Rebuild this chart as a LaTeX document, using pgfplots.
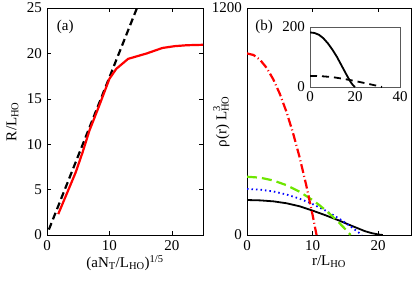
\documentclass[border=0pt]{standalone}
\usepackage{pgfplots}
\pgfplotsset{compat=1.18}
\usepackage{fontspec}
\setmainfont{Liberation Serif}
\begin{document}
\fontsize{15}{17}\selectfont
\begin{tikzpicture}
\path[use as bounding box] (0pt,0pt) rectangle (415pt,285pt);
\pgfplotsset{
  every axis/.append style={
    scale only axis,
    anchor=south west,
    axis line style={line width=0.6pt},
    tick style={line width=0.5pt,black},
    tick align=inside,
    major tick length=4pt,
    /pgf/number format/assume math mode=true,
    /pgf/number format/1000 sep={},
    tick label style={font=\fontsize{15}{17}\selectfont},
    label style={font=\fontsize{15}{17}\selectfont},
  }
}
% (a)
\begin{axis}[at={(47pt,50pt)}, width=156pt, height=227pt,
  xmin=0, xmax=25, ymin=0, ymax=25,
  xtick={0,10,20}, ytick={0,5,10,15,20,25},
  tick pos=both, clip=true,
  xlabel={(aN\textsubscript{T}/L\textsubscript{HO})\textsuperscript{1/5}},
  ylabel={R/L\textsubscript{HO}},
  xlabel style={yshift=5pt},
  ylabel style={yshift=-2pt},
]
\addplot[black, line width=2.2pt, dash pattern=on 7pt off 4pt] coordinates {(0.3,0.6) (15.0,26.0)};
\addplot[red, line width=2.2pt] coordinates {
(1.8,2.3) (3.2,4.6) (4.6,6.9) (5.7,9.1) (6.8,11.5) (8.4,14.3) (10.0,17.2) (11.1,18.3) (13.0,19.4) (16.0,20.0) (18.5,20.6) (20.5,20.8) (22.4,20.9) (25.1,20.95)};
\node[anchor=north west, font=\fontsize{15}{17}\selectfont] at (rel axis cs:0.03,0.97) {(a)};
\end{axis}
% (b)
\begin{axis}[at={(247pt,50pt)}, width=164pt, height=227pt,
  xmin=0, xmax=25, ymin=0, ymax=1200,
  xtick={0,10,20}, ytick={0,1200},
  xtick pos=both, ytick pos=left,
  ytick style={draw=none},
  xlabel={r/L\textsubscript{HO}},
  ylabel={ρ(r) L\rlap{\raisebox{1pt}{\textsuperscript{3}}}\textsubscript{HO}},
  xlabel style={yshift=5pt},
  ylabel style={yshift=-28pt},
]
\addplot[black, line width=1.8pt] coordinates {
(0,185) (2,183) (4,178) (6,168) (8,152) (10,129) (12,104) (14,77) (16,48) (18,20) (19,10) (20,3) (20.7,0)};
\addplot[blue, line width=1.8pt, dash pattern=on 1.5pt off 3pt] coordinates {
(0,243) (2,239.8) (4,230.3) (6,214.4) (8,192.2) (10,163.6) (12,128.7) (14,87.5) (15,64.5) (16,39.9) (17,13.7) (17.5,0)};
\addplot[color={rgb,255:red,110;green,230;blue,0}, line width=2.2pt, dash pattern=on 10pt off 5pt] coordinates {
(0,308) (2,303.1) (4,288.3) (6,263.6) (8,229.0) (10,184.6) (11,158.7) (12,130.3) (13,99.5) (14,66.2) (15,30.4) (15.8,0)};
\addplot[red, line width=2.2pt, dash pattern=on 9pt off 3pt on 1pt off 3pt] coordinates {
(0,960) (1,951.5) (2,925.8) (3,883.1) (4,823.3) (5,746.4) (6,652.4) (7,541.3) (8,413.2) (9,267.9) (10,105.6) (10.6,0)};
\node[anchor=north west, font=\fontsize{15}{17}\selectfont] at (rel axis cs:0.02,0.97) {(b)};
\end{axis}
% inset
\begin{axis}[at={(310pt,198pt)}, width=90pt, height=60pt,
  xmin=0, xmax=40, ymin=0, ymax=200,
  xtick={0,20,40}, ytick={0,200},
  tick pos=left, major tick length=0pt,
  axis line style={line width=0.6pt, gray!70!black},
  axis background/.style={fill=white},
  xticklabel style={yshift=1pt},
]
\addplot[black, line width=1.8pt] coordinates {
(0,182) (2,180) (4,174) (6,162) (8,145) (10,124) (12,100) (14,72) (16,44) (18,17) (19,7) (20,0)};
\addplot[black, line width=1.8pt, dash pattern=on 7pt off 5pt] coordinates {
(0,37) (5,36) (10,33) (15,27) (20,20) (25,12) (28,7) (31,2) (32,0)};
\end{axis}
\end{tikzpicture}
\end{document}
